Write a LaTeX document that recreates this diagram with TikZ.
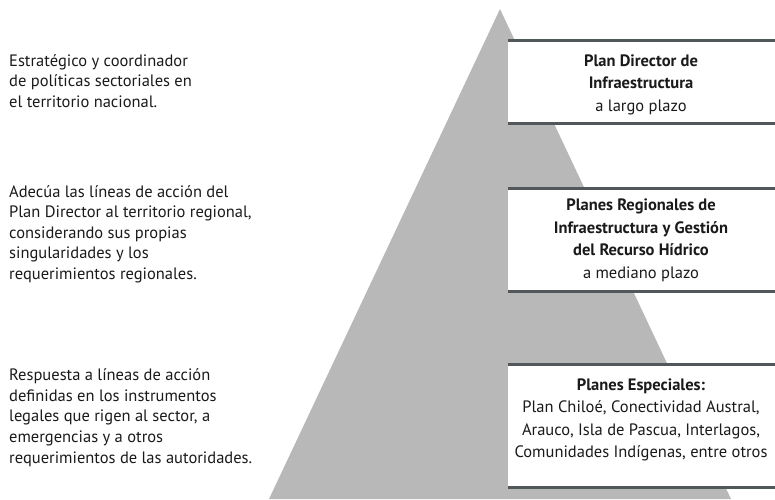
\documentclass[tikz,border=0pt]{standalone}
\usepackage{fontspec}
\setmainfont{PT Sans}
\definecolor{pyramidGray}{HTML}{B9B8B9}
\definecolor{ruleGray}{HTML}{50585A}
\definecolor{inkBlack}{HTML}{1A1A1A}

\begin{document}
\begin{tikzpicture}[x=1pt, y=-1pt,
    desc/.style={anchor=west, align=left, inner sep=0pt, text=inkBlack,
      font=\fontsize{16.5}{20.6}\selectfont},
    plan/.style={align=center, inner sep=0pt, text=inkBlack,
      font=\fontsize{16.5}{22.5}\selectfont},
    band/.style={fill=white},
    rule/.style={draw=ruleGray, line width=3pt}]

    \useasboundingbox (0,0) rectangle (775,499);

    % pyramid
    \fill[pyramidGray] (269,499) -- (500,9) -- (731,499) -- cycle;

    % white bands over the pyramid
    \fill[band] (508,40) rectangle (775,123);
    \fill[band] (508,188) rectangle (775,291);
    \fill[band] (508,364) rectangle (775,487);

    % rules of the bands
    \draw[rule] (508,40.5) -- (775,40.5);
    \draw[rule] (508,123) -- (775,123);
    \draw[rule] (508,188) -- (775,188);
    \draw[rule] (508,291) -- (775,291);
    \draw[rule] (508,364.5) -- (775,364.5);
    \draw[rule] (508,487) -- (775,487);

    % plans
    \node[plan] (director) at (641,84.5)
      {\textbf{Plan Director de}\\\textbf{Infraestructura}\\a largo plazo};
    \node[plan] (regional) at (641,240.5)
      {\textbf{Planes Regionales de}\\\textbf{Infraestructura y Gestión}\\
       \textbf{del Recurso Hídrico}\\a mediano plazo};
    \node[plan] (especial) at (641,420)
      {\textbf{Planes Especiales:}\\Plan Chiloé, Conectividad Austral,\\
       Arauco, Isla de Pascua, Interlagos,\\Comunidades Indígenas, entre otros};

    % descriptions
    \node[desc] (estrategico) at (9,81)
      {Estratégico y coordinador\\de políticas sectoriales en\\el territorio nacional.};
    \node[desc] (adecua) at (9,234)
      {Adecúa las líneas de acción del\\Plan Director al territorio regional,\\
       considerando sus propias\\singularidades y los\\requerimientos regionales.};
    \node[desc] (respuesta) at (9,417.5)
      {Respuesta a líneas de acción\\definidas en los instrumentos\\
       legales que rigen al sector, a\\emergencias y a otros\\
       requerimientos de las autoridades.};

\end{tikzpicture}
\end{document}
